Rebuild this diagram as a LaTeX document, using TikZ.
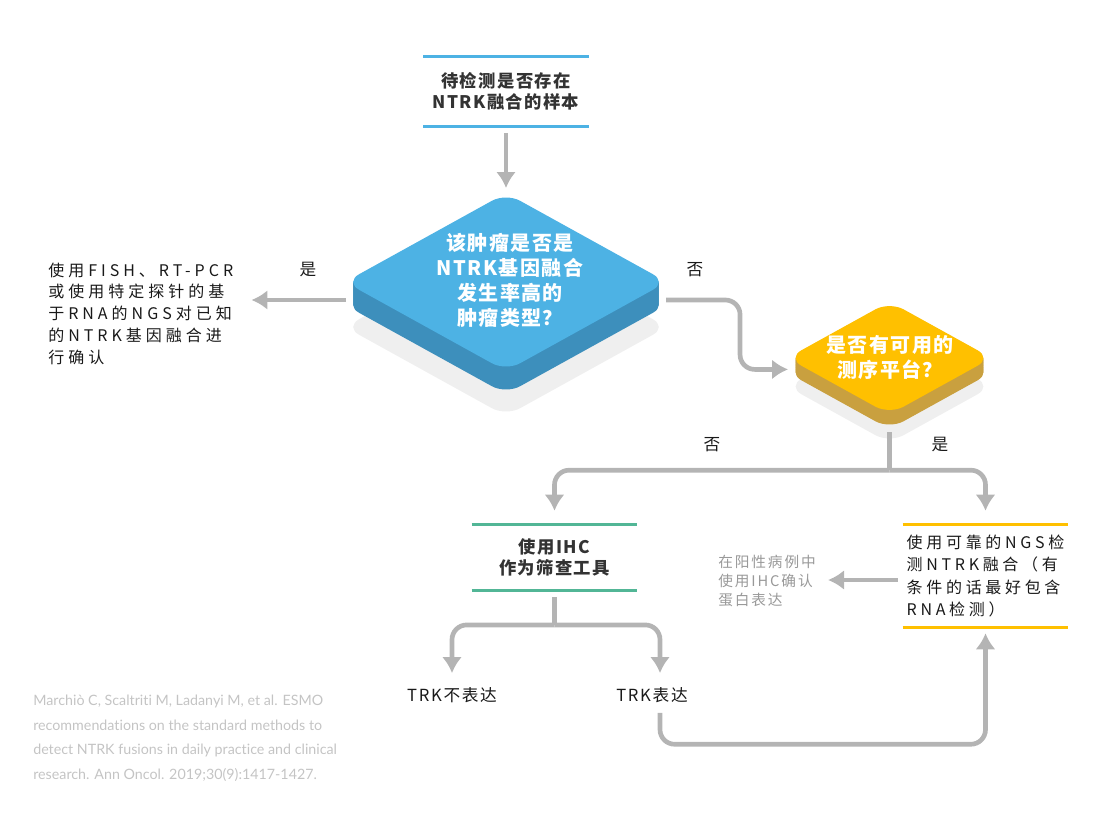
\documentclass[tikz,border=0pt]{standalone}
\usepackage{fontspec}
\setmainfont{Noto Sans CJK SC}
\newfontfamily\reffont[Ligatures=NoCommon]{Lato}
\usetikzlibrary{arrows.meta,positioning}
\definecolor{boxblue}{HTML}{4DB2E4}
\definecolor{boxblueside}{HTML}{3D8FBC}
\definecolor{boxyellow}{HTML}{FFC000}
\definecolor{boxyellowside}{HTML}{C9A03F}
\definecolor{boxteal}{HTML}{52B696}
\definecolor{arrowgray}{HTML}{B4B4B4}
\definecolor{slabshadow}{HTML}{EFEFEF}
\definecolor{textdark}{HTML}{333333}
\definecolor{notegray}{HTML}{999999}
\definecolor{refgray}{HTML}{C4C4C4}
\tikzset{
	pics/slab/.style 2 args = {code = {
		\fill[slabshadow, rounded corners=12pt] (-161,45) -- (0,-44) -- (161,45) -- (0,134) -- cycle;
		\foreach \d in {23,22,...,1}
			\fill[#2, rounded corners=12pt, shift={(0,\d)}] (-161,0) -- (0,-89) -- (161,0) -- (0,89) -- cycle;
		\fill[#1, rounded corners=12pt] (-161,0) -- (0,-89) -- (161,0) -- (0,89) -- cycle;
		\coordinate (-n) at (0,-94);
		\coordinate (-w) at (-160,18);
		\coordinate (-e) at (160,18);
		\coordinate (-s) at (0,117);
	}},
	band/.style = {minimum width=123.75pt, inner sep=0pt, align=center,
		append after command={
			(\tikzlastnode.north west) edge[draw=#1, line width=2.4pt] (\tikzlastnode.north east)
			(\tikzlastnode.south west) edge[draw=#1, line width=2.4pt] (\tikzlastnode.south east)
		}},
	boxtext/.style = {text=textdark, font={\fontsize{13pt}{15.75pt}\selectfont\bfseries\addfontfeature{LetterSpace=8}}},
	slabtext/.style = {text=white, align=center, inner sep=0pt,
		font={\fontsize{15pt}{18.75pt}\selectfont\bfseries\addfontfeature{LetterSpace=7}}},
	note/.style = {text=black!90, align=left, inner sep=0pt,
		font={\fontsize{12pt}{16.3pt}\selectfont\addfontfeature{LetterSpace=25}}},
	hint/.style = {text=notegray, align=left, inner sep=0pt,
		font={\fontsize{11pt}{14.25pt}\selectfont\addfontfeature{LetterSpace=13}}},
	flowlabel/.style = {text=black!90, inner sep=0pt,
		font={\fontsize{12.5pt}{15pt}\selectfont\addfontfeature{LetterSpace=10}}},
	link/.style = {draw=arrowgray, line width=3.5pt, rounded corners=11pt},
	flow/.style = {link, -{Latex[length=12pt,width=15pt]}}
}

\begin{document}
\begin{tikzpicture}[x=0.75pt, y=-0.75pt]
	\useasboundingbox (0,0) rectangle (1111,815);
	\pic (bq) at (506,282) {slab={boxblue}{boxblueside}};
	\pic[scale=0.634] (yq) at (889.5,358) {slab={boxyellow}{boxyellowside}};

	\node[band=boxblue, boxtext, minimum height=51.75pt] (start) at (506,91.5) {待检测是否存在\\NTRK融合的样本};
	\node[slabtext] (bqtext) at (510,280.5) {该肿瘤是否是\\NTRK基因融合\\发生率高的\\肿瘤类型？};
	\node[slabtext] (yqtext) at (890,357.5) {是否有可用的\\测序平台？};
	\node[note, anchor=west] (fish) at (48,313.5) {使用FISH、RT-PCR\\或使用特定探针的基\\于RNA的NGS对已知\\的NTRK基因融合进\\行确认};
	\node[band=boxteal, boxtext, minimum height=48.75pt] (ihc) at (554.5,557.5) {使用IHC\\作为筛查工具};
	\node[band=boxyellow, note, align=left, minimum height=76.5pt, font={\fontsize{12pt}{16.8pt}\selectfont\addfontfeature{LetterSpace=23}}] (ngs) at (985.5,576) {使用可靠的NGS检\\测NTRK融合（有\\条件的话最好包含\\RNA检测）};
	\node[hint, anchor=west] (confirm) at (718,581) {在阳性病例中\\使用IHC确认\\蛋白表达};
	\node[flowlabel] (neg) at (452,695) {TRK不表达};
	\node[flowlabel] (pos) at (652,695) {TRK表达};

	\node[flowlabel] (yes1) at (308,270) {是};
	\node[flowlabel] (no1) at (695,270) {否};
	\node[flowlabel] (no2) at (712,445) {否};
	\node[flowlabel] (yes2) at (940,445) {是};

	\draw[flow, shorten <=5pt] (start.south) -- (bq-n);
	\draw[flow, shorten >=13.5pt] (bq-w) -- (bq-w -| fish.east);
	\draw[flow] (bq-e) -| ([xshift=-36pt]yq-w) -- (yq-w);

	\coordinate[below=28.5pt of yq-s] (fork);
	\draw[link] (yq-s) -- (fork);
	\draw[flow, shorten >=10.5pt] (fork) -| (ihc.north);
	\draw[flow, shorten >=10.5pt] (fork) -| (ngs.north);

	\coordinate[below=26pt of ihc.south] (split);
	\draw[link, shorten <=5pt] (ihc.south) -- (split);
	\draw[flow, shorten >=10.5pt] (split) -| (neg.north);
	\draw[flow, shorten >=10.5pt] (split) -| ([xshift=6pt]pos.north);

	\coordinate[below=31pt of pos.south, xshift=6pt] (back);
	\draw[flow, shorten <=7.5pt, shorten >=4.5pt] ([xshift=6pt]pos.south) -- (back) -| (ngs.south);
	\draw[flow, shorten <=3.75pt, shorten >=9pt] ([yshift=-3pt]ngs.west) -- ([yshift=-3pt]ngs.west -| confirm.east);

	\node[text=refgray, align=left, inner sep=0pt, anchor=north west, font={\reffont\fontsize{10.7pt}{18.4pt}\selectfont}] (ref) at (33,695)
		{Marchiò C, Scaltriti M, Ladanyi M, et al. ESMO\\recommendations on the standard methods to\\detect NTRK fusions in daily practice and clinical\\research. Ann Oncol. 2019;30(9):1417-1427.};
\end{tikzpicture}
\end{document}
